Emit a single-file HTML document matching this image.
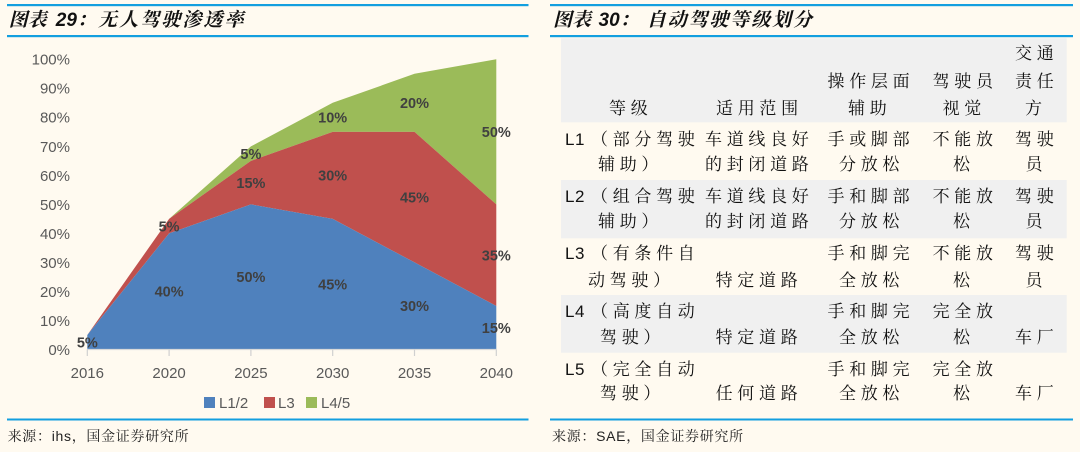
<!DOCTYPE html>
<html><head><meta charset="utf-8">
<style>
html,body{margin:0;padding:0;background:#fffaf0;}
body{width:1080px;height:452px;position:relative;overflow:hidden;font-family:"Liberation Sans","Noto Serif CJK SC",serif;}
.t{position:absolute;white-space:nowrap;line-height:20px;font-size:17px;letter-spacing:4.7px;color:#111;font-family:"Liberation Serif","Noto Serif CJK SC",serif;}
.l{position:absolute;white-space:nowrap;line-height:20px;font-size:17px;letter-spacing:0.6px;color:#111;font-family:"Liberation Sans",sans-serif;}
.ttl{position:absolute;white-space:nowrap;font-size:19px;line-height:24px;font-weight:bold;font-style:italic;color:#111;top:8.6px;}
.src{position:absolute;top:426.5px;font-size:14px;line-height:18px;letter-spacing:0.7px;color:#222;white-space:nowrap;}
</style></head><body>
<svg width="1080" height="452" style="position:absolute;left:0;top:0" xmlns="http://www.w3.org/2000/svg">
<rect x="0" y="0" width="1080" height="452" fill="#fffaf0"/>
<rect x="561" y="38.3" width="505.7" height="84" fill="#f0f0f0"/>
<rect x="561" y="180" width="505.7" height="58.3" fill="#f0f0f0"/>
<rect x="561" y="295" width="505.7" height="57.7" fill="#f0f0f0"/>
<rect x="7" y="4" width="521.5" height="2.2" fill="#139fdf"/>
<rect x="7" y="35" width="521.5" height="2.2" fill="#139fdf"/>
<rect x="7" y="418.5" width="521.5" height="2" fill="#139fdf"/>
<rect x="550" y="4" width="523" height="2.2" fill="#139fdf"/>
<rect x="550" y="35" width="523" height="2.2" fill="#139fdf"/>
<rect x="550" y="418.5" width="523" height="2" fill="#139fdf"/>
<polygon fill="#9bbb59" points="87.3,335 169.1,218.9 250.9,146.4 332.7,102.8 414.5,73.8 496.3,59.3 496.3,204.4 414.5,131.85 332.7,131.85 250.9,160.9 169.1,218.9"/>
<polygon fill="#c0504d" points="87.3,335 169.1,218.9 250.9,160.9 332.7,131.85 414.5,131.85 496.3,204.4 496.3,306 414.5,262.4 332.7,218.9 250.9,204.4 169.1,233.4"/>
<polygon fill="#4f81bd" points="87.3,349.5 87.3,335 169.1,233.4 250.9,204.4 332.7,218.9 414.5,262.4 496.3,306 496.3,349.5"/>
<line x1="87.3" y1="349.5" x2="496.3" y2="349.5" stroke="#d9d9d9" stroke-width="1.2"/>
<g stroke="#d0d0d0" stroke-width="1.2">
<line x1="87.3" y1="349.5" x2="87.3" y2="356"/>
<line x1="169.1" y1="349.5" x2="169.1" y2="356"/>
<line x1="250.9" y1="349.5" x2="250.9" y2="356"/>
<line x1="332.7" y1="349.5" x2="332.7" y2="356"/>
<line x1="414.5" y1="349.5" x2="414.5" y2="356"/>
<line x1="496.3" y1="349.5" x2="496.3" y2="356"/>
</g>
<g font-family="Liberation Sans, sans-serif" font-size="15" fill="#595959" text-anchor="end">
<text x="70" y="354.9">0%</text>
<text x="70" y="325.9">10%</text>
<text x="70" y="296.9">20%</text>
<text x="70" y="267.8">30%</text>
<text x="70" y="238.8">40%</text>
<text x="70" y="209.8">50%</text>
<text x="70" y="180.8">60%</text>
<text x="70" y="151.8">70%</text>
<text x="70" y="122.7">80%</text>
<text x="70" y="93.7">90%</text>
<text x="70" y="64.7">100%</text>
</g>
<g font-family="Liberation Sans, sans-serif" font-size="15" fill="#595959" text-anchor="middle">
<text x="87.3" y="378">2016</text>
<text x="169.1" y="378">2020</text>
<text x="250.9" y="378">2025</text>
<text x="332.7" y="378">2030</text>
<text x="414.5" y="378">2035</text>
<text x="496.3" y="378">2040</text>
</g>
<g font-family="Liberation Sans, sans-serif" font-size="14.5" font-weight="bold" fill="#404040" text-anchor="middle">
<text x="87.3" y="347.4">5%</text>
<text x="169.1" y="296.7">40%</text>
<text x="250.9" y="282.2">50%</text>
<text x="332.7" y="289.4">45%</text>
<text x="414.5" y="311.2">30%</text>
<text x="496.3" y="332.9">15%</text>
<text x="169.1" y="231.4">5%</text>
<text x="250.9" y="187.8">15%</text>
<text x="332.7" y="180.6">30%</text>
<text x="414.5" y="202.3">45%</text>
<text x="496.3" y="260.4">35%</text>
<text x="250.9" y="158.8">5%</text>
<text x="332.7" y="122.5">10%</text>
<text x="414.5" y="108">20%</text>
<text x="496.3" y="137">50%</text>
</g>
<rect x="204" y="397" width="11" height="11" fill="#4f81bd"/>
<rect x="264" y="397" width="11" height="11" fill="#c0504d"/>
<rect x="306" y="397" width="11" height="11" fill="#9bbb59"/>
<g font-family="Liberation Sans, sans-serif" font-size="15" fill="#595959">
<text x="219" y="408.1">L1/2</text>
<text x="278" y="408.1">L3</text>
<text x="321" y="408.1">L4/5</text>
</g>
</svg>

<div class="ttl" style="left:8.6px;">图表</div>
<div class="ttl" style="left:55.8px;">29：</div>
<div class="ttl" style="left:98px;letter-spacing:2.1px;">无人驾驶渗透率</div>
<div class="ttl" style="left:553px;">图表</div>
<div class="ttl" style="left:598.5px;">30：</div>
<div class="ttl" style="left:646.7px;letter-spacing:1.9px;">自动驾驶等级划分</div>

<div class="src" style="left:7.6px;">来源：ihs，国金证券研究所</div>
<div class="src" style="left:552px;">来源：SAE，国金证券研究所</div>

<div class="t" style="left:1015px;top:43.7px;">交通</div>
<div class="t" style="left:827.5px;top:72.1px;">操作层面</div>
<div class="t" style="left:932.6px;top:72.1px;">驾驶员</div>
<div class="t" style="left:1015px;top:72.1px;">责任</div>
<div class="t" style="left:609px;top:98.7px;">等级</div>
<div class="t" style="left:716px;top:98.7px;">适用范围</div>
<div class="t" style="left:848px;top:98.7px;">辅助</div>
<div class="t" style="left:942.6px;top:98.7px;">视觉</div>
<div class="t" style="left:1025px;top:98.7px;">方</div>

<div class="l" style="left:565px;top:129.9px;">L1</div>
<div class="t" style="left:591px;top:129.9px;">（部分驾驶</div>
<div class="t" style="left:598px;top:154.9px;">辅助）</div>
<div class="t" style="left:705px;top:129.9px;">车道线良好</div>
<div class="t" style="left:705px;top:154.9px;">的封闭道路</div>
<div class="t" style="left:827.5px;top:129.9px;">手或脚部</div>
<div class="t" style="left:839px;top:154.9px;">分放松</div>
<div class="t" style="left:932.6px;top:129.9px;">不能放</div>
<div class="t" style="left:953px;top:154.9px;">松</div>
<div class="t" style="left:1015px;top:129.9px;">驾驶</div>
<div class="t" style="left:1025.5px;top:154.9px;">员</div>

<div class="l" style="left:565px;top:186.9px;">L2</div>
<div class="t" style="left:591px;top:186.9px;">（组合驾驶</div>
<div class="t" style="left:598px;top:211.9px;">辅助）</div>
<div class="t" style="left:705px;top:186.9px;">车道线良好</div>
<div class="t" style="left:705px;top:211.9px;">的封闭道路</div>
<div class="t" style="left:827.5px;top:186.9px;">手和脚部</div>
<div class="t" style="left:839px;top:211.9px;">分放松</div>
<div class="t" style="left:932.6px;top:186.9px;">不能放</div>
<div class="t" style="left:953px;top:211.9px;">松</div>
<div class="t" style="left:1015px;top:186.9px;">驾驶</div>
<div class="t" style="left:1025.5px;top:211.9px;">员</div>

<div class="l" style="left:565px;top:244.4px;">L3</div>
<div class="t" style="left:591px;top:244.4px;">（有条件自</div>
<div class="t" style="left:588px;top:270.9px;">动驾驶）</div>
<div class="t" style="left:715.6px;top:270.9px;">特定道路</div>
<div class="t" style="left:827.5px;top:244.4px;">手和脚完</div>
<div class="t" style="left:839px;top:270.9px;">全放松</div>
<div class="t" style="left:932.6px;top:244.4px;">不能放</div>
<div class="t" style="left:953px;top:270.9px;">松</div>
<div class="t" style="left:1015px;top:244.4px;">驾驶</div>
<div class="t" style="left:1025.5px;top:270.9px;">员</div>

<div class="l" style="left:565px;top:302.4px;">L4</div>
<div class="t" style="left:591px;top:302.4px;">（高度自动</div>
<div class="t" style="left:600px;top:327.9px;">驾驶）</div>
<div class="t" style="left:715.6px;top:327.9px;">特定道路</div>
<div class="t" style="left:827.5px;top:302.4px;">手和脚完</div>
<div class="t" style="left:839px;top:327.9px;">全放松</div>
<div class="t" style="left:932.6px;top:302.4px;">完全放</div>
<div class="t" style="left:953px;top:327.9px;">松</div>
<div class="t" style="left:1015px;top:327.9px;">车厂</div>

<div class="l" style="left:565px;top:359.9px;">L5</div>
<div class="t" style="left:591px;top:359.9px;">（完全自动</div>
<div class="t" style="left:600px;top:384.4px;">驾驶）</div>
<div class="t" style="left:715.6px;top:384.4px;">任何道路</div>
<div class="t" style="left:827.5px;top:359.9px;">手和脚完</div>
<div class="t" style="left:839px;top:384.4px;">全放松</div>
<div class="t" style="left:932.6px;top:359.9px;">完全放</div>
<div class="t" style="left:953px;top:384.4px;">松</div>
<div class="t" style="left:1015px;top:384.4px;">车厂</div>
</body></html>
